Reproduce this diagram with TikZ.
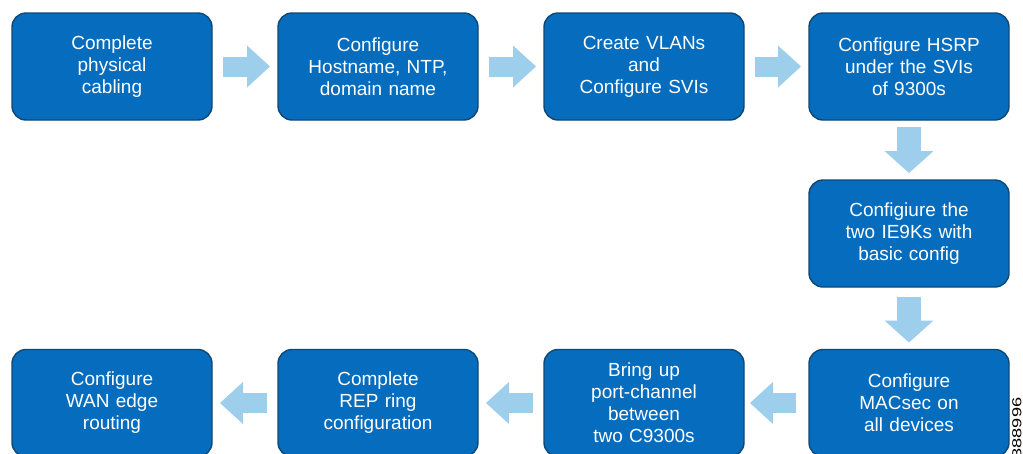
\documentclass[tikz,border=0pt]{standalone}
\usepackage{fontspec}
\setmainfont{Liberation Sans}
\usetikzlibrary{arrows.meta}
\definecolor{boxfill}{RGB}{6,108,189}
\definecolor{boxline}{RGB}{14,72,118}
\definecolor{arrowc}{RGB}{157,207,237}
\begin{document}
\begin{tikzpicture}[x=1pt,y=-1pt,
  stepbox/.style={draw=boxline, line width=1.4pt, fill=boxfill, rounded corners=14pt,
    minimum width=200pt, minimum height=107pt, inner sep=0pt, outer sep=0pt,
    text=white, align=center, text width=190pt,
    font=\fontsize{19}{22}\selectfont},
  harrow/.style={arrowc, line width=20pt, -{Triangle[length=23pt,width=42pt,line width=0pt]}},
  varrow/.style={arrowc, line width=24pt, -{Triangle[length=22pt,width=49pt,line width=0pt]}}]
\useasboundingbox (0,0) rectangle (1023,453);
\clip (0,0) rectangle (1023,453);
\node[stepbox] (b1) at (112,66.5) {Complete\\physical\\cabling};
\node[stepbox] (b2) at (378,66.5) {Configure\\Hostname, NTP,\\domain name};
\node[stepbox] (b3) at (644,66.5) {Create VLANs\\and\\Configure SVIs};
\node[stepbox] (b4) at (909,66.5) {Configure HSRP\\under the SVIs\\of 9300s};
\node[stepbox] (b5) at (909,233.5) {Configiure the\\two IE9Ks with\\basic config};
\node[stepbox] (b6) at (909,403) {Configure\\MACsec on\\all devices};
\node[stepbox] (b7) at (644,403) {Bring up\\port-channel\\between\\two C9300s};
\node[stepbox] (b8) at (378,403) {Complete\\REP ring\\configuration};
\node[stepbox] (b9) at (112,403) {Configure\\WAN edge\\routing};
\draw[harrow] ([xshift=11pt]b1.east) -- ([xshift=-8pt]b2.west);
\draw[harrow] ([xshift=11pt]b2.east) -- ([xshift=-8pt]b3.west);
\draw[harrow] ([xshift=11pt]b3.east) -- ([xshift=-8pt]b4.west);
\draw[varrow] ([yshift=-7pt]b4.south) -- ([yshift=7pt]b5.north);
\draw[varrow] ([yshift=-10pt]b5.south) -- ([yshift=7pt]b6.north);
\draw[harrow] ([xshift=-13pt]b6.west) -- ([xshift=6pt]b7.east);
\draw[harrow] ([xshift=-11pt]b7.west) -- ([xshift=8pt]b8.east);
\draw[harrow] ([xshift=-11pt]b8.west) -- ([xshift=8pt]b9.east);
\node[rotate=90, inner sep=0pt, font=\fontsize{13}{13}\selectfont] (id) at (1017,428) {\scalebox{1.4}[1]{388996}};
\end{tikzpicture}
\end{document}
